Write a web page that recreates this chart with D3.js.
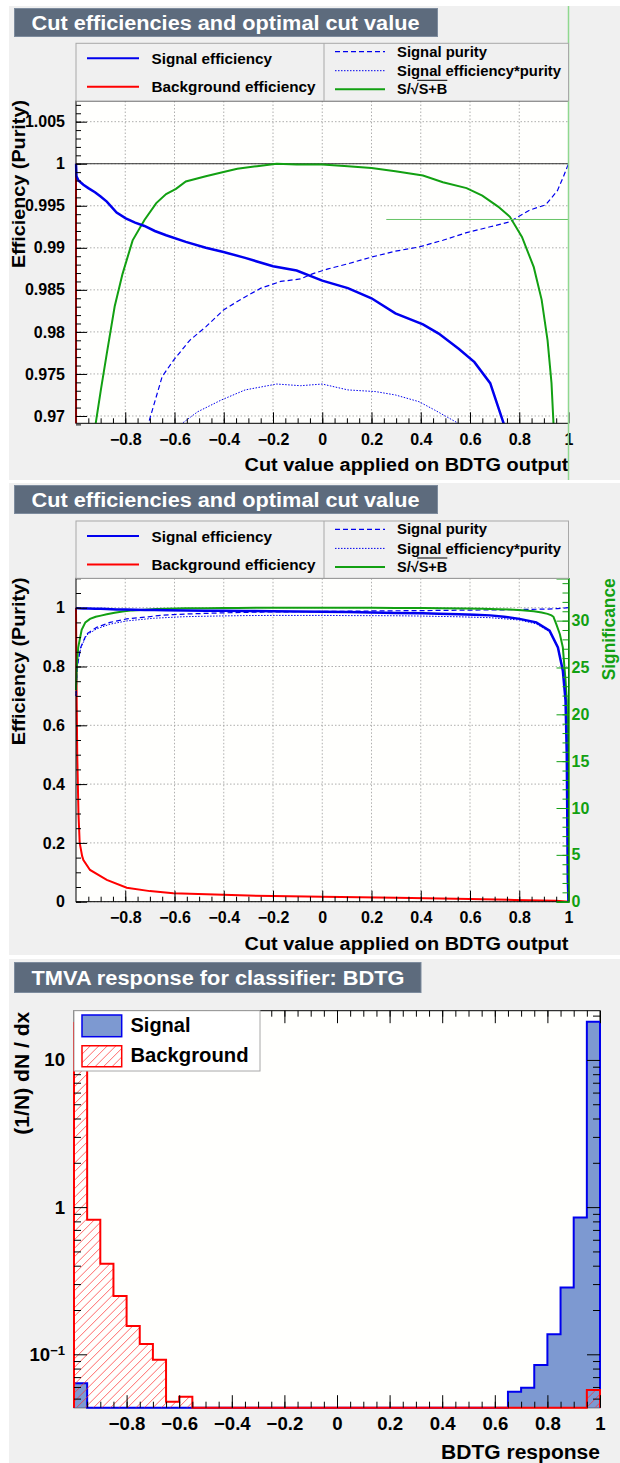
<!DOCTYPE html>
<html><head><meta charset="utf-8">
<script src="https://cdn.jsdelivr.net/npm/d3@7"></script>
<style>
body{margin:0;background:#fff}
svg{display:block}
text{font-family:"Liberation Sans",Arial,Helvetica,sans-serif;font-weight:bold}
</style>
</head><body>
<svg id="c" width="620" height="1463"></svg>
<script>
// ---------------- DATA ----------------
const cutTitle = "Cut efficiencies and optimal cut value";
const histTitle = "TMVA response for classifier: BDTG";
const cutXLabel = "Cut value applied on BDTG output";
const cutYLabel = "Efficiency (Purity)";
const sigAxisLabel = "Significance";
const histXLabel = "BDTG response";
const histYLabel = "(1/N) dN / dx";
const legendCut = ["Signal efficiency", "Background efficiency", "Signal purity", "Signal efficiency*purity"];
const legendHist = ["Signal", "Background"];

const xTickLabels = [-0.8, -0.6, -0.4, -0.2, 0, 0.2, 0.4, 0.6, 0.8, 1];
const zoomYTicks = [0.97, 0.975, 0.98, 0.985, 0.99, 0.995, 1, 1.005];
const fullYTicks = [0, 0.2, 0.4, 0.6, 0.8, 1];
const sigTicks = [0, 5, 10, 15, 20, 25, 30];
const histYTicks = [0.1, 1, 10];

// signal efficiency vs cut
const effSX = [-1, -0.998, -0.99, -0.97, -0.95, -0.923, -0.9, -0.875, -0.835, -0.798, -0.76, -0.722, -0.68, -0.634, -0.554, -0.473, -0.401, -0.313, -0.2, -0.104, 0, 0.104, 0.2, 0.297, 0.409, 0.473, 0.554, 0.618, 0.682, 0.738, 0.801, 0.869, 0.923, 0.957, 0.977, 0.988, 0.993, 0.997, 1.0];
const effSY = [1.0, 0.9985, 0.998, 0.9975, 0.9971, 0.9966, 0.9961, 0.9955, 0.9942, 0.9935, 0.993, 0.9926, 0.992, 0.9915, 0.9907, 0.99, 0.9895, 0.9888, 0.9878, 0.9873, 0.9861, 0.9852, 0.984, 0.9822, 0.9809, 0.9798, 0.978, 0.9764, 0.9739, 0.969, 0.962, 0.95, 0.922, 0.865, 0.786, 0.684, 0.5, 0.08, 0.0];
// background efficiency vs cut
const effBX = [-1, -0.998, -0.995, -0.99, -0.985, -0.975, -0.97, -0.943, -0.875, -0.794, -0.7, -0.605, -0.47, -0.335, -0.2, 0, 0.3, 0.6, 0.78, 0.95, 1.0];
const effBY = [1.0, 0.75, 0.5, 0.3, 0.2, 0.155, 0.142, 0.108, 0.074, 0.0475, 0.036, 0.0285, 0.025, 0.0217, 0.019, 0.017, 0.0136, 0.009, 0.006, 0.003, 0.0];
// signal purity vs cut
const purX = [-1, -0.995, -0.981, -0.957, -0.916, -0.862, -0.794, -0.706, -0.65, -0.602, -0.538, -0.473, -0.401, -0.329, -0.249, -0.169, -0.088, -0.04, 0.024, 0.104, 0.2, 0.297, 0.393, 0.49, 0.586, 0.682, 0.762, 0.843, 0.907, 0.955, 0.98, 1.0];
const purY = [0.70, 0.80, 0.865, 0.911, 0.933, 0.950, 0.962, 0.9691, 0.9747, 0.9767, 0.979, 0.9806, 0.9826, 0.9839, 0.9852, 0.986, 0.9863, 0.9869, 0.9875, 0.9881, 0.9889, 0.9896, 0.9901, 0.9909, 0.9918, 0.9925, 0.9931, 0.9945, 0.9951, 0.9968, 0.9985, 1.0];
// signal efficiency * purity vs cut
const epX = [-1, -0.995, -0.981, -0.957, -0.916, -0.862, -0.794, -0.686, -0.57, -0.506, -0.41, -0.313, -0.185, -0.088, 0, 0.104, 0.217, 0.297, 0.393, 0.457, 0.554, 0.682, 0.801, 0.869, 0.923, 0.957, 0.977, 0.988, 0.993, 0.997, 1.0];
const epY = [0.70, 0.80, 0.862, 0.907, 0.928, 0.944, 0.955, 0.964, 0.9691, 0.9705, 0.9719, 0.9731, 0.9738, 0.9736, 0.9738, 0.9731, 0.9729, 0.9725, 0.9717, 0.9707, 0.9691, 0.966, 0.958, 0.945, 0.918, 0.862, 0.784, 0.683, 0.5, 0.08, 0.0];
// significance S/sqrt(S+B) vs cut
const sigX = [-1, -0.997, -0.991, -0.977, -0.962, -0.943, -0.92, -0.899, -0.875, -0.843, -0.811, -0.77, -0.722, -0.674, -0.634, -0.594, -0.554, -0.473, -0.401, -0.345, -0.265, -0.185, -0.104, 0, 0.104, 0.2, 0.297, 0.409, 0.49, 0.586, 0.65, 0.714, 0.762, 0.811, 0.859, 0.891, 0.915, 0.931, 0.939, 0.95, 0.965, 0.977, 0.988, 0.993, 0.997, 0.999, 1];
const sigY = [22.594, 25.104, 27.144, 29.027, 29.811, 30.188, 30.411, 30.536, 30.671, 30.847, 30.969, 31.094, 31.170, 31.233, 31.267, 31.286, 31.314, 31.333, 31.349, 31.361, 31.371, 31.380, 31.377, 31.377, 31.371, 31.364, 31.352, 31.336, 31.311, 31.289, 31.261, 31.220, 31.182, 31.107, 30.994, 30.872, 30.721, 30.561, 30.411, 29.654, 28.556, 27.144, 23.598, 21.464, 14.121, 6.276, 0];
const optCutY = 0.99337; // level of the optimal-cut marker line
const optCutX = 0.26;

// histograms (40 bins on [-1,1])
const binEdges = d3.range(41).map(i => Math.round((-1 + i * 0.05) * 100) / 100);
const histSig = [0.0636, 0,0,0,0,0,0,0,0,0, 0,0,0,0,0,0,0,0,0,0, 0,0,0,0,0,0,0,0,0,0, 0,0,0, 0.0557, 0.0593, 0.0846, 0.137, 0.284, 0.851, 18.2];
const histBkg = [17.8, 0.82, 0.413, 0.249, 0.156, 0.1175, 0.0919, 0.0477, 0.0515, 0, 0,0,0,0,0,0,0,0,0,0, 0,0,0,0,0,0,0,0,0,0, 0,0,0,0,0,0,0,0,0, 0.0572];

// ---------------- STYLE ----------------
const C = {canvas:"#f0f0f0", title:"#5D6B7D", titleBorder:"#7D8B9D", frame:"#fffffd",
  sig:"#0000ee", bkg:"#ff0000", sigFill:"#7d99d1", green:"#12a012", grid:"#9a9a9a", legBorder:"#a8a8a8"};
const svg = d3.select("#c");
const defs = svg.append("defs");
const sigMax = d3.max(sigY);
const fmt = d3.format("~g");
let clipN = 0;

function zip(xs, ys){ return xs.map((v,i)=>[v, ys[i]]); }
function fit(t, len){ return t.attr("textLength",len).attr("lengthAdjust","spacingAndGlyphs"); }

// red hatching clipped to a path
function hatch(parent, d, bx0, by0, bx1, by1){
  const id = "hc"+(++clipN);
  defs.append("clipPath").attr("id",id).append("path").attr("d",d);
  const hg = parent.append("g").attr("clip-path",`url(#${id})`).attr("stroke","#ff3030").attr("stroke-width",0.9).attr("opacity",0.8);
  const h = by1-by0, step = 8.5;
  for(let s = bx0 - h; s < bx1 + step; s += step){
    hg.append("line").attr("x1",s).attr("y1",by1).attr("x2",s+h).attr("y2",by0);
  }
}

function cutPanel(cfg, idx){
  const g = svg.append("g");
  g.append("rect").attr("x",9).attr("y",cfg.bgY).attr("width",611).attr("height",cfg.bgH).attr("fill",C.canvas);
  g.append("rect").attr("x",14.5).attr("y",cfg.titleY).attr("width",423).attr("height",28)
    .attr("fill",C.title).attr("stroke",C.titleBorder).attr("stroke-width",1);
  fit(g.append("text").attr("x",31.5).attr("y",cfg.titleY+21).attr("fill","#fff").attr("font-size",20).text(cutTitle),388);

  const X0=76, X1=568.5;
  const x = d3.scaleLinear().domain([-1,1]).range([X0,X1]);
  const y = d3.scaleLinear().domain(cfg.yDomain).range([cfg.y1,cfg.y0]);

  g.append("rect").attr("x",X0).attr("y",cfg.y0).attr("width",X1-X0).attr("height",cfg.y1-cfg.y0).attr("fill",C.frame);
  const grid = g.append("g").attr("stroke",C.grid).attr("stroke-width",0.8).attr("stroke-dasharray","1.5,2");
  xTickLabels.filter(v=>v>-1 && v<1).forEach(v=>grid.append("line").attr("x1",x(v)).attr("x2",x(v)).attr("y1",cfg.y0).attr("y2",cfg.y1));
  cfg.yTicks.forEach(v=>grid.append("line").attr("x1",X0).attr("x2",X1).attr("y1",y(v)).attr("y2",y(v)));

  const clipId = "clip"+idx;
  defs.append("clipPath").attr("id",clipId).append("rect").attr("x",X0-1.5).attr("y",cfg.y0).attr("width",X1-X0+3).attr("height",cfg.y1-cfg.y0);
  const pg = g.append("g").attr("clip-path",`url(#${clipId})`);
  if(cfg.unitLine) pg.append("line").attr("x1",X0).attr("x2",X1).attr("y1",y(1)).attr("y2",y(1)).attr("stroke","#333").attr("stroke-width",1);
  const line = d3.line().x(d=>x(d[0])).y(d=>y(d[1]));
  pg.append("path").attr("d",line(zip(effBX,effBY))).attr("fill","none").attr("stroke",C.bkg).attr("stroke-width",2);
  pg.append("path").attr("d",line(zip(epX,epY))).attr("fill","none").attr("stroke",C.sig).attr("stroke-width",1).attr("stroke-dasharray","1.5,1.5");
  pg.append("path").attr("d",line(zip(purX,purY))).attr("fill","none").attr("stroke",C.sig).attr("stroke-width",1.2).attr("stroke-dasharray","5,3");
  pg.append("path").attr("d",line(zip(sigX,sigY.map(v=>v/sigMax)))).attr("fill","none").attr("stroke",C.green).attr("stroke-width",2);
  pg.append("path").attr("d",line(zip(effSX,effSY))).attr("fill","none").attr("stroke",C.sig).attr("stroke-width",2.5);
  if(cfg.optLine) pg.append("line").attr("x1",x(optCutX)).attr("x2",X1).attr("y1",y(optCutY)).attr("y2",y(optCutY)).attr("stroke","#66c466").attr("stroke-width",1);

  g.append("rect").attr("x",X0).attr("y",cfg.y0).attr("width",X1-X0).attr("height",cfg.y1-cfg.y0).attr("fill","none").attr("stroke","#000").attr("stroke-width",1);

  const axB = g.append("g").attr("transform",`translate(0,${cfg.y1})`)
    .call(d3.axisBottom(x).tickValues(xTickLabels).tickSize(-11).tickPadding(10).tickFormat(fmt));
  axB.select(".domain").remove();
  axB.selectAll("text").attr("font-size",16).attr("font-family",null).attr("fill","#000");
  const axBm = g.append("g").attr("transform",`translate(0,${cfg.y1})`)
    .call(d3.axisBottom(x).tickValues(d3.range(-19,20).map(i=>i*0.05)).tickSize(-5).tickFormat(""));
  axBm.select(".domain").remove();

  const axL = g.append("g").attr("transform",`translate(${X0},0)`)
    .call(d3.axisLeft(y).tickValues(cfg.yTicks).tickSize(-11).tickPadding(11).tickFormat(fmt));
  axL.select(".domain").remove();
  axL.selectAll("text").attr("font-size",16).attr("font-family",null).attr("fill","#000");
  const axLm = g.append("g").attr("transform",`translate(${X0},0)`)
    .call(d3.axisLeft(y).tickValues(cfg.yMinor).tickSize(-5).tickFormat(""));
  axLm.select(".domain").remove();

  fit(g.append("text").attr("x",X1).attr("y",cfg.y1+48).attr("text-anchor","end").attr("font-size",18).text(cutXLabel),324);
  fit(g.append("text").attr("transform",`translate(25,${cfg.y0-1}) rotate(-90)`).attr("text-anchor","end").attr("font-size",18.5).text(cutYLabel),168);

  if(cfg.sigAxis){
    const ys = d3.scaleLinear().domain([0, cfg.yDomain[1]*sigMax]).range([cfg.y1,cfg.y0]);
    const axR = g.append("g").attr("transform",`translate(${X1},0)`)
      .call(d3.axisRight(ys).tickValues(sigTicks).tickSize(-12).tickPadding(3).tickFormat(fmt));
    axR.select(".domain").attr("stroke",C.green).attr("stroke-width",1.5);
    axR.selectAll("line").attr("stroke",C.green);
    axR.selectAll("text").attr("font-size",16).attr("font-family",null).attr("fill",C.green);
    const axRm = g.append("g").attr("transform",`translate(${X1},0)`)
      .call(d3.axisRight(ys).tickValues(d3.range(0,35)).tickSize(-6).tickFormat(""));
    axRm.select(".domain").remove();
    axRm.selectAll("line").attr("stroke",C.green);
    fit(g.append("text").attr("transform",`translate(615,${cfg.y0}) rotate(-90)`).attr("text-anchor","end")
      .attr("font-size",18.5).attr("fill",C.green).text(sigAxisLabel),102);
  }
  if(cfg.sigLineFull){
    g.append("line").attr("x1",X1).attr("x2",X1).attr("y1",cfg.bgY).attr("y2",cfg.bgY+cfg.bgH).attr("stroke","#8fd88f").attr("stroke-width",1.5);
  }

  // legend
  const L = g.append("g");
  L.append("rect").attr("x",X0).attr("y",cfg.legY).attr("width",X1-X0).attr("height",cfg.y0-cfg.legY)
    .attr("fill",C.canvas).attr("stroke",C.legBorder).attr("stroke-width",1);
  L.append("line").attr("x1",324).attr("x2",324).attr("y1",cfg.legY).attr("y2",cfg.y0).attr("stroke",C.legBorder);
  const ly = cfg.legY, fs = 14.5;
  const entry = (x1,x2,yl,tx,tb,txt,stroke,w,dash,len)=>{
    L.append("line").attr("x1",x1).attr("x2",x2).attr("y1",yl).attr("y2",yl).attr("stroke",stroke).attr("stroke-width",w).attr("stroke-dasharray",dash);
    const t = L.append("text").attr("x",tx).attr("y",tb).attr("font-size",fs).text(txt);
    if(len) fit(t,len);
    return t;
  };
  entry(87,139,ly+15,151.5,ly+20.5,legendCut[0],C.sig,2,null,120.5);
  entry(87,139,ly+43.4,151.5,ly+49,legendCut[1],C.bkg,2,null,164);
  entry(335,385,ly+8.4,397,ly+13.4,legendCut[2],C.sig,1.2,"5,3",90);
  entry(335,385,ly+27.4,397,ly+32.7,legendCut[3],C.sig,1,"1.5,1.5",164);
  const t1 = entry(335,385,ly+46,397,ly+51,"S/√",C.green,2,null,null);
  const w1 = t1.node().getComputedTextLength();
  const t2 = L.append("text").attr("x",397+w1).attr("y",ly+51).attr("font-size",fs).text("S+B");
  const w2 = t2.node().getComputedTextLength();
  L.append("line").attr("x1",397+w1-1.5).attr("x2",397+w1+w2).attr("y1",ly+37).attr("y2",ly+37).attr("stroke","#000").attr("stroke-width",1);
}

cutPanel({bgY:6,bgH:474,titleY:8.5,legY:43.3,y0:101,y1:423.3,yDomain:[0.96913,1.00746],
  yTicks:zoomYTicks,yMinor:d3.range(969,1008).map(v=>v/1000),unitLine:true,optLine:true,sigAxis:false,sigLineFull:true},1);
cutPanel({bgY:483,bgH:472,titleY:485.5,legY:521,y0:578.3,y1:901.7,yDomain:[0,1.1],
  yTicks:fullYTicks,yMinor:d3.range(0,23).map(v=>v*0.05),unitLine:false,optLine:false,sigAxis:true,sigLineFull:false},2);

// ---------------- HISTOGRAM PANEL ----------------
(function(){
  const g = svg.append("g");
  g.append("rect").attr("x",9).attr("y",959).attr("width",611).attr("height",504).attr("fill",C.canvas);
  g.append("rect").attr("x",14.5).attr("y",962.5).attr("width",406.5).attr("height",30)
    .attr("fill",C.title).attr("stroke",C.titleBorder);
  fit(g.append("text").attr("x",31.5).attr("y",985).attr("fill","#fff").attr("font-size",20).text(histTitle),373);
  const X0=74, X1=600, Y0=1010.7, Y1=1407.7;
  const x = d3.scaleLinear().domain([-1,1]).range([X0,X1]);
  const y = d3.scaleLog().domain([0.04338,21.6]).range([Y1,Y0]);
  g.append("rect").attr("x",X0).attr("y",Y0).attr("width",X1-X0).attr("height",Y1-Y0).attr("fill",C.frame).attr("stroke","#000");
  defs.append("clipPath").attr("id","cliph").append("rect").attr("x",X0-1.5).attr("y",Y0).attr("width",X1-X0+3).attr("height",Y1-Y0+1.5);
  const ymin = y.domain()[0];
  function stepPts(vals){
    const pts=[[binEdges[0],ymin]];
    vals.forEach((v,i)=>{ const vv=Math.max(v,ymin); pts.push([binEdges[i],vv]); pts.push([binEdges[i+1],vv]); });
    pts.push([binEdges[binEdges.length-1],ymin]);
    return pts;
  }
  const line = d3.line().x(d=>x(d[0])).y(d=>y(d[1]));
  const pg = g.append("g").attr("clip-path","url(#cliph)");
  pg.append("path").attr("d",line(stepPts(histSig))).attr("fill",C.sigFill).attr("stroke",C.sig).attr("stroke-width",2);
  const bd = line(stepPts(histBkg));
  hatch(pg, bd, X0, Y0, X1, Y1);
  pg.append("path").attr("d",bd).attr("fill","none").attr("stroke",C.bkg).attr("stroke-width",2);

  const fs=18.6;
  const majX = xTickLabels, minX = d3.range(-19,20).map(i=>i*0.05);
  const axB = g.append("g").attr("transform",`translate(0,${Y1})`).call(d3.axisBottom(x).tickValues(majX).tickSize(-12.5).tickPadding(9).tickFormat(fmt));
  axB.select(".domain").remove(); axB.selectAll("text").attr("font-size",fs).attr("font-family",null).attr("fill","#000");
  const axBm = g.append("g").attr("transform",`translate(0,${Y1})`).call(d3.axisBottom(x).tickValues(minX).tickSize(-6).tickFormat(""));
  axBm.select(".domain").remove();
  const axT = g.append("g").attr("transform",`translate(0,${Y0})`).call(d3.axisTop(x).tickValues(majX).tickSize(-12.5).tickFormat(""));
  axT.select(".domain").remove();
  const axTm = g.append("g").attr("transform",`translate(0,${Y0})`).call(d3.axisTop(x).tickValues(minX).tickSize(-6).tickFormat(""));
  axTm.select(".domain").remove();
  const minY = [0.05,0.06,0.07,0.08,0.09,0.2,0.3,0.4,0.5,0.6,0.7,0.8,0.9,2,3,4,5,6,7,8,9,20];
  const axL = g.append("g").attr("transform",`translate(${X0},0)`).call(d3.axisLeft(y).tickValues(histYTicks).tickSize(-13).tickPadding(9).tickFormat(d=>d===0.1?"10":fmt(d)));
  axL.select(".domain").remove(); axL.selectAll("text").attr("font-size",fs).attr("font-family",null).attr("fill","#000");
  axL.selectAll("text").filter(d=>d===0.1).append("tspan").attr("dy","-0.45em").attr("font-size","0.7em").text("−1");
  const axLm = g.append("g").attr("transform",`translate(${X0},0)`).call(d3.axisLeft(y).tickValues(minY).tickSize(-7).tickFormat(""));
  axLm.select(".domain").remove();
  const axR = g.append("g").attr("transform",`translate(${X1},0)`).call(d3.axisRight(y).tickValues(histYTicks).tickSize(-13).tickFormat(""));
  axR.select(".domain").remove();
  const axRm = g.append("g").attr("transform",`translate(${X1},0)`).call(d3.axisRight(y).tickValues(minY).tickSize(-7).tickFormat(""));
  axRm.select(".domain").remove();

  fit(g.append("text").attr("x",X1).attr("y",1459).attr("text-anchor","end").attr("font-size",20).text(histXLabel),159);
  fit(g.append("text").attr("transform",`translate(28.5,${Y0+1}) rotate(-90)`).attr("text-anchor","end").attr("font-size",19.5).text(histYLabel),123);

  // legend
  const L = g.append("g");
  L.append("rect").attr("x",X0).attr("y",Y0).attr("width",186).attr("height",60.3).attr("fill","#fff").attr("stroke",C.legBorder);
  L.append("rect").attr("x",82).attr("y",1015).attr("width",39.7).attr("height",21.7).attr("fill",C.sigFill).attr("stroke",C.sig).attr("stroke-width",1.5);
  const sw = "M82,1045.7 h39.7 v21 h-39.7 Z";
  hatch(L, sw, 82, 1045.7, 121.7, 1066.7);
  L.append("path").attr("d",sw).attr("fill","none").attr("stroke",C.bkg).attr("stroke-width",1.5);
  fit(L.append("text").attr("x",130.5).attr("y",1032.3).attr("font-size",20).text(legendHist[0]),60);
  fit(L.append("text").attr("x",130.5).attr("y",1062.3).attr("font-size",20).text(legendHist[1]),118);
})();
</script>
</body></html>
